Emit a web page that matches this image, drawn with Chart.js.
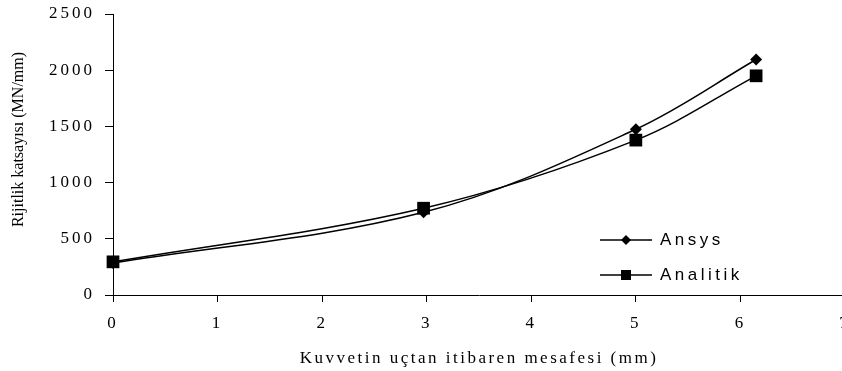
<!DOCTYPE html>
<html lang="tr">
  <head>
    <title>Rijitlik katsayısı</title>
    <meta charset="utf-8">
    <script src="https://cdn.jsdelivr.net/npm/chart.js@4.4.1/dist/chart.umd.min.js"></script>
    <style>
      html, body { margin: 0; padding: 0; background: #fff; overflow: hidden; }
    </style>
  </head>
  <body>
    <div class="chart-container" style="position: relative; width: 854px; height: 371px;">
        <canvas id="myChart1"></canvas>
    </div>
  <script>
    // values
    var mesafe   = [0, 2.97, 5.0, 6.15];       // mm
    var ansys    = [285, 736, 1475, 2095];     // MN/mm
    var analitik = [295, 772, 1378, 1950];     // MN/mm
    var seriesNames = ['Ansys', 'Analitik'];
    var xTitle = 'Kuvvetin uçtan itibaren mesafesi (mm)';
    var yTitle = 'Rijitlik katsayısı (MN/mm)';

    function points(ys) {
        return mesafe.map(function (x, i) { return {x: x, y: ys[i]}; });
    }

    var serif = '"Liberation Serif", "Times New Roman", serif';
    var sans  = '"Liberation Sans", Arial, sans-serif';

    // titles + excel style legend (line with marker)
    var textPlugin = {
        id: 'texts',
        beforeDraw: function (chart) {
            chart.ctx.letterSpacing = '3px';
        },
        afterDraw: function (chart) {
            var ctx = chart.ctx;
            ctx.save();
            ctx.fillStyle = '#000';
            ctx.strokeStyle = '#000';

            ctx.font = '17px ' + serif;
            ctx.letterSpacing = '2.5px';
            ctx.textAlign = 'center';
            ctx.textBaseline = 'alphabetic';
            ctx.fillText(xTitle, 479, 363);

            ctx.font = '16px ' + serif;
            ctx.letterSpacing = '0px';
            ctx.save();
            ctx.translate(23, 139.5);
            ctx.rotate(-Math.PI / 2);
            ctx.fillText(yTitle, 0, 0);
            ctx.restore();

            ctx.font = '17px ' + sans;
            ctx.letterSpacing = '3.5px';
            ctx.textAlign = 'left';
            chart.data.datasets.forEach(function (ds, i) {
                var ly = 240 + i * 35;
                ctx.lineWidth = 1.5;
                ctx.beginPath();
                ctx.moveTo(600, ly);
                ctx.lineTo(652, ly);
                ctx.stroke();
                ctx.beginPath();
                if (ds.pointStyle === 'rectRot') {
                    ctx.moveTo(626 - 5, ly);
                    ctx.lineTo(626, ly - 5);
                    ctx.lineTo(626 + 5, ly);
                    ctx.lineTo(626, ly + 5);
                    ctx.closePath();
                } else {
                    ctx.rect(621, ly - 5, 10, 10);
                }
                ctx.fill();
                ctx.fillText(ds.label, 660, ly + 4.5);
            });
            ctx.restore();
            ctx.letterSpacing = '0px';
        }
    };

    var ctx = document.getElementById('myChart1').getContext('2d');
    var myChart1 = new Chart(ctx, {
        type: 'line',
        data: {
            datasets: [{
                label: seriesNames[0],
                data: points(ansys),
                borderColor: '#000',
                backgroundColor: '#000',
                borderWidth: 1.5,
                tension: 0.35,
                pointStyle: 'rectRot',
                pointRadius: 6,
                pointBorderWidth: 0,
                clip: false
            }, {
                label: seriesNames[1],
                data: points(analitik),
                borderColor: '#000',
                backgroundColor: '#000',
                borderWidth: 1.5,
                tension: 0.35,
                pointStyle: 'rect',
                pointRadius: 9,
                pointBorderWidth: 0,
                clip: false
            }]
        },
        options: {
            responsive: true,
            maintainAspectRatio: false,
            animation: false,
            layout: { padding: { top: 14, left: 0, right: 0, bottom: 0 } },
            plugins: {
                legend: { display: false },
                tooltip: { enabled: false }
            },
            scales: {
                x: {
                    type: 'linear',
                    min: 0,
                    max: 7,
                    ticks: { stepSize: 1, color: '#000', padding: 11, maxRotation: 0,
                             font: { family: serif, size: 17 },
                             callback: function (v) { return String(v); } },
                    grid: { drawOnChartArea: false, color: '#000', tickLength: 7 },
                    border: { color: '#000', width: 1 },
                    afterFit: function (scale) {
                        scale.height = 76;
                        scale.paddingLeft = 0;
                        scale.paddingRight = 0;
                    }
                },
                y: {
                    min: 0,
                    max: 2500,
                    ticks: { stepSize: 500, color: '#000', padding: 10,
                             font: { family: serif, size: 17 },
                             callback: function (v) { return String(v); } },
                    grid: { drawOnChartArea: false, color: '#000', tickLength: 8 },
                    border: { color: '#000', width: 1 },
                    afterFit: function (scale) {
                        scale.width = 113;
                        scale.paddingTop = 0;
                        scale.paddingBottom = 0;
                    }
                }
            }
        },
        plugins: [textPlugin]
    });
  </script>
  </body>
</html>
